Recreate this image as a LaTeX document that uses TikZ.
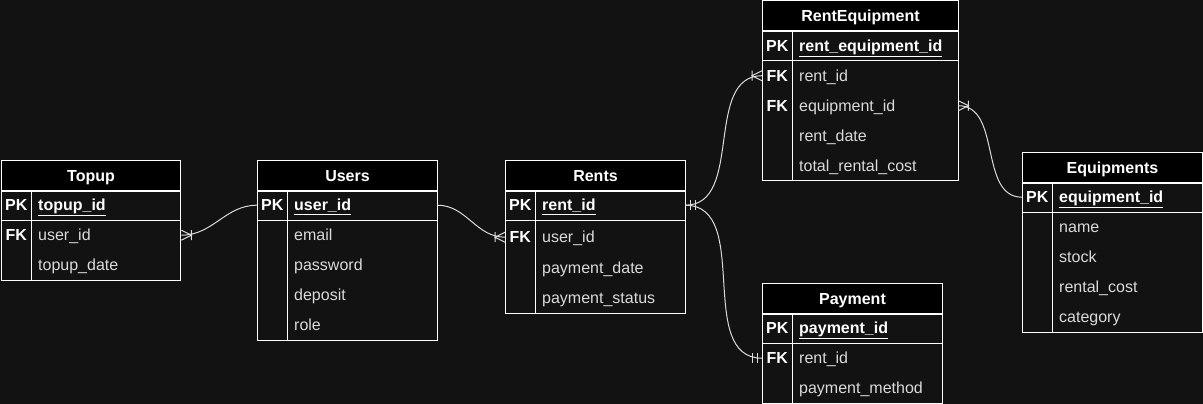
\documentclass[tikz,border=0pt]{standalone}
\usepackage{fontspec}
\setmainfont{Liberation Sans}
\definecolor{bgc}{HTML}{121212}
\definecolor{fieldc}{HTML}{DADADA}
\tikzset{
  tbl/.style={draw=white, line width=1pt},
  rel/.style={draw=fieldc, line width=1pt},
  hdr/.style={draw=white, line width=1pt, fill=black, text=white, font=\bfseries,
    minimum height=30pt, inner sep=0pt, anchor=north west, text height=12pt, text depth=1pt},
  keycol/.style={text=white, font=\bfseries, minimum width=30pt, minimum height=30pt,
    inner sep=0pt, anchor=north west, text height=12pt, text depth=1pt},
  field/.style={text=fieldc, anchor=north west, text width=#1, align=left, minimum height=30pt,
    inner xsep=7pt, inner ysep=0pt, text height=12pt, text depth=1pt},
  pkfield/.style={field=#1, text=white, font=\bfseries},
  crow/.pic={\draw[rel] (0,-5) -- (10,0) -- (0,5) (10,-5) -- (10,5);},
  bars/.pic={\draw[rel] (5,-5) -- (5,5) (10,-5) -- (10,5);}
}
\begin{document}
\fontsize{16}{19}\selectfont
\begin{tikzpicture}[x=1pt, y=-1pt]
  \fill[bgc] (0,0) rectangle (1203,404);
  \useasboundingbox (0,0) rectangle (1203,404);

  % Topup
  \node[hdr, minimum width=179pt] (topup) at (1,160) {Topup};
  \draw[tbl] (topup.south west) rectangle (180,280);
  \draw[tbl] (1,220) -- (180,220) (31,190) -- (31,280);
  \node[keycol] (topup-pk) at (1,190) {PK};
  \node[pkfield=136pt] (topup-id) at (31,190) {\underline{topup\_id}};
  \node[keycol] (topup-fk) at (1,220) {FK};
  \node[field=136pt] (topup-user) at (31,220) {user\_id};
  \node[field=136pt] (topup-date) at (31,250) {topup\_date};

  % Users
  \node[hdr, minimum width=180pt] (users) at (257,160) {Users};
  \draw[tbl] (users.south west) rectangle (437,340);
  \draw[tbl] (257,220) -- (437,220) (287,190) -- (287,340);
  \node[keycol] (users-pk) at (257,190) {PK};
  \node[pkfield=136pt] (users-id) at (287,190) {\underline{user\_id}};
  \node[field=136pt] (users-email) at (287,220) {email};
  \node[field=136pt] (users-pass) at (287,250) {password};
  \node[field=136pt] (users-dep) at (287,280) {deposit};
  \node[field=136pt] (users-role) at (287,310) {role};

  % Rents
  \node[hdr, minimum width=180pt] (rents) at (505,160) {Rents};
  \draw[tbl] (rents.south west) rectangle (685,313);
  \draw[tbl] (505,220) -- (685,220) (535,190) -- (535,313);
  \node[keycol] (rents-pk) at (505,190) {PK};
  \node[pkfield=136pt] (rents-id) at (535,190) {\underline{rent\_id}};
  \node[keycol] (rents-fk) at (505,222) {FK};
  \node[field=136pt] (rents-user) at (535,222) {user\_id};
  \node[field=136pt] (rents-pdate) at (535,253) {payment\_date};
  \node[field=136pt] (rents-status) at (535,283) {payment\_status};

  % RentEquipment
  \node[hdr, minimum width=196pt] (re) at (762,0.5) {RentEquipment};
  \draw[tbl] (re.south west) rectangle (958,180.5);
  \draw[tbl] (762,60.5) -- (958,60.5) (792,30.5) -- (792,180.5);
  \node[keycol] (re-pk) at (762,30.5) {PK};
  \node[pkfield=152pt] (re-id) at (792,30.5) {\underline{rent\_equipment\_id}};
  \node[keycol] (re-fk1) at (762,60.5) {FK};
  \node[field=152pt] (re-rent) at (792,60.5) {rent\_id};
  \node[keycol] (re-fk2) at (762,90.5) {FK};
  \node[field=152pt] (re-equip) at (792,90.5) {equipment\_id};
  \node[field=152pt] (re-date) at (792,120.5) {rent\_date};
  \node[field=152pt] (re-cost) at (792,150.5) {total\_rental\_cost};

  % Payment
  \node[hdr, minimum width=180pt] (pay) at (762,283) {Payment};
  \draw[tbl] (pay.south west) rectangle (942,403);
  \draw[tbl] (762,343) -- (942,343) (792,313) -- (792,403);
  \node[keycol] (pay-pk) at (762,313) {PK};
  \node[pkfield=136pt] (pay-id) at (792,313) {\underline{payment\_id}};
  \node[keycol] (pay-fk) at (762,343) {FK};
  \node[field=136pt] (pay-rent) at (792,343) {rent\_id};
  \node[field=136pt] (pay-method) at (792,373) {payment\_method};

  % Equipments
  \node[hdr, minimum width=180pt] (eq) at (1022,152) {Equipments};
  \draw[tbl] (eq.south west) rectangle (1202,332);
  \draw[tbl] (1022,212) -- (1202,212) (1052,182) -- (1052,332);
  \node[keycol] (eq-pk) at (1022,182) {PK};
  \node[pkfield=136pt] (eq-id) at (1052,182) {\underline{equipment\_id}};
  \node[field=136pt] (eq-name) at (1052,212) {name};
  \node[field=136pt] (eq-stock) at (1052,242) {stock};
  \node[field=136pt] (eq-cost) at (1052,272) {rental\_cost};
  \node[field=136pt] (eq-cat) at (1052,302) {category};

  % relations
  \draw[rel] (topup-user.east) to[out=0, in=180] (users-pk.west);
  \draw[rel] (users-id.east) to[out=0, in=180] (rents-fk.west);
  \draw[rel] (rents-id.east) to[out=0, in=180] (re-fk1.west);
  \draw[rel] (rents-id.east) to[out=0, in=180] (pay-fk.west);
  \draw[rel] (re-equip.east) to[out=0, in=180] (eq-pk.west);
  \pic at (topup-user.east) {crow};
  \pic[rotate=180] at (rents-fk.west) {crow};
  \pic[rotate=180] at (re-fk1.west) {crow};
  \pic at (re-equip.east) {crow};
  \pic at (rents-id.east) {bars};
  \pic[rotate=180] at (pay-fk.west) {bars};
\end{tikzpicture}
\end{document}
